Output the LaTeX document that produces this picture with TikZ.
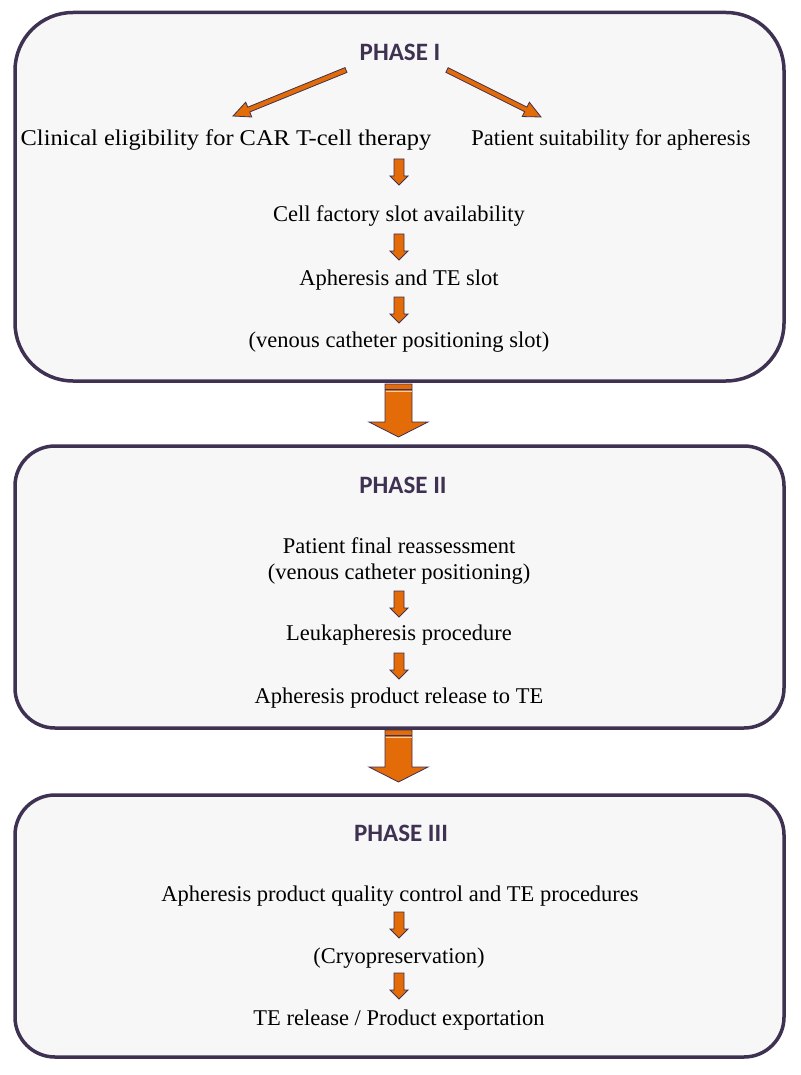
\documentclass[tikz,border=0pt]{standalone}
\usepackage{fontspec}
\setmainfont{Liberation Serif}
\newfontfamily\headfont{Carlito}
\usetikzlibrary{calc}
\definecolor{boxline}{HTML}{3F3151}
\definecolor{boxfill}{HTML}{F7F7F7}
\definecolor{arrowfill}{HTML}{E36C09}
\tikzset{
  phasebox/.style={draw=boxline, line width=3.5pt, fill=boxfill, minimum width=769pt, inner sep=0pt},
  heading/.style={font=\headfont\bfseries\fontsize{25}{30}\selectfont, text=boxline, anchor=base, inner sep=0pt},
  body/.style={font=\fontsize{22.5}{27}\selectfont, anchor=base, inner sep=0pt},
  arrowshape/.style={fill=arrowfill, draw=boxline, line width=0.8pt, line join=miter},
}
\newcommand{\blockarrow}[5]{%
  \coordinate (ba-h) at ($(#2)!#5!(#1)$);
  \filldraw[arrowshape] ($(#1)!#3!90:(#2)$) -- ($(ba-h)!#3!90:(#2)$) -- ($(ba-h)!#4!90:(#2)$) -- (#2)
    -- ($(ba-h)!#4!-90:(#2)$) -- ($(ba-h)!#3!-90:(#2)$) -- ($(#1)!#3!-90:(#2)$) -- cycle;}
\newcommand{\smallarrow}[2]{\blockarrow{#1}{#2}{5pt}{9pt}{9pt}}
\begin{document}
\begin{tikzpicture}[x=1pt,y=-1pt]
\useasboundingbox (0,0) rectangle (800,1075);
\fill[white] (0,0) rectangle (800,1075);
% boxes
\node[phasebox, rounded corners=58pt, minimum height=368.5pt] (box1) at (399.5,196.75) {};
\node[phasebox, rounded corners=40pt, minimum height=282pt] (box2) at (399.5,587) {};
\node[phasebox, rounded corners=40pt, minimum height=262pt] (box3) at (399.5,926) {};
% big arrows between phases
\coordinate (big1s) at (398.5,384);
\coordinate (big1t) at (398.5,437);
\coordinate (big2s) at (398.5,730);
\coordinate (big2t) at (398.5,782);
\blockarrow{big1s}{big1t}{13.5pt}{29.5pt}{15pt}
\blockarrow{big2s}{big2t}{13.5pt}{29.5pt}{15pt}
\draw[boxline, line width=1pt] (385,389.5) -- (412,389.5);
\draw[white!80!boxline, line width=0.6pt] (385.5,391) -- (411.5,391);
\draw[boxline, line width=1pt] (385,735.5) -- (412,735.5);
\draw[white!80!boxline, line width=0.6pt] (385.5,737) -- (411.5,737);
% phase I
\node[heading] (h1) at (400,61) {PHASE I};
\node[body] (clin) at (226,146) {\scalebox{1.085}[1]{Clinical eligibility for CAR T-cell therapy}};
\node[body] (suit) at (611,146) {Patient suitability for apheresis};
\node[body] (slot) at (399,222) {Cell factory slot availability};
\node[body] (aph) at (399,285) {Apheresis and TE slot};
\node[body] (ven) at (399,347) {(venous catheter positioning slot)};
\coordinate (d1s) at (346,70);
\coordinate (d1t) at (233,116);
\coordinate (d2s) at (447,70);
\coordinate (d2t) at (541,117);
\blockarrow{d1s}{d1t}{2.6pt}{8pt}{17pt}
\blockarrow{d2s}{d2t}{2.6pt}{8pt}{17pt}
\coordinate (a1s) at (399,159); \coordinate (a1t) at (399,185);
\coordinate (a2s) at (399,234); \coordinate (a2t) at (399,260);
\coordinate (a3s) at (399,297); \coordinate (a3t) at (399,323);
\smallarrow{a1s}{a1t}
\smallarrow{a2s}{a2t}
\smallarrow{a3s}{a3t}
% phase II
\node[heading] (h2) at (403,493) {PHASE II};
\node[body] (reas) at (399,553) {Patient final reassessment};
\node[body] (venb) at (399,579) {(venous catheter positioning)};
\node[body] (leuk) at (399,640) {Leukapheresis procedure};
\node[body] (rel) at (399,703) {Apheresis product release to TE};
\coordinate (b1s) at (399,591); \coordinate (b1t) at (399,617);
\coordinate (b2s) at (399,653); \coordinate (b2t) at (399,679);
\smallarrow{b1s}{b1t}
\smallarrow{b2s}{b2t}
% phase III
\node[heading] (h3) at (401,841) {PHASE III};
\node[body] (qc) at (400,901) {Apheresis product quality control and TE procedures};
\node[body] (cryo) at (399,963) {(Cryopreservation)};
\node[body] (exp) at (399,1025) {TE release / Product exportation};
\coordinate (c1s) at (399,912); \coordinate (c1t) at (399,938);
\coordinate (c2s) at (399,973); \coordinate (c2t) at (399,999);
\smallarrow{c1s}{c1t}
\smallarrow{c2s}{c2t}
\end{tikzpicture}
\end{document}
